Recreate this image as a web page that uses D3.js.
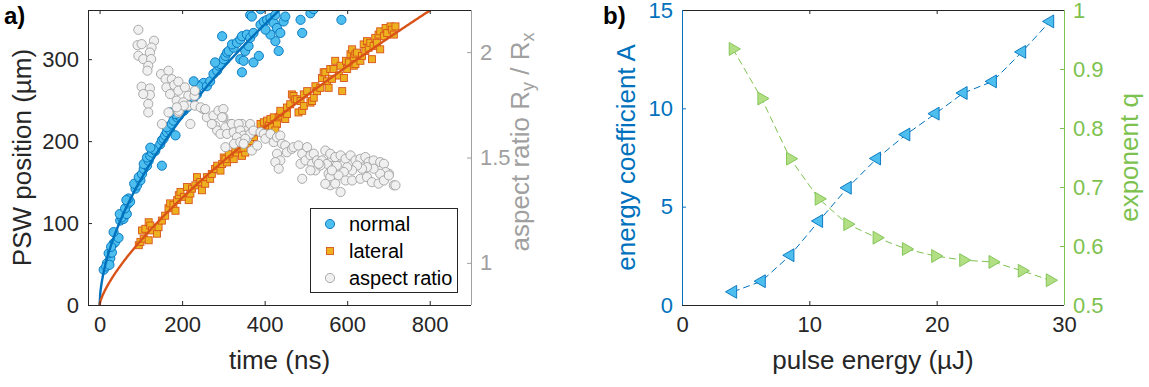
<!DOCTYPE html>
<html>
<head>
<meta charset="utf-8">
<script src="https://cdn.jsdelivr.net/npm/d3@7"></script>
<style>
  body { margin: 0; background: #fff; }
  svg { display: block; font-family: "Liberation Sans", Arial, Helvetica, sans-serif; }
</style>
</head>
<body>
<svg id="fig" width="1149" height="387"></svg>
<script>
// ---------- panel a: shock-wave position vs. time ----------
// normal direction [time ns, position µm]
const normalPoints = [
  [10,43],[18,51],[26,57],[22,63],[30,64],[16,47],[24,49],[34,75],[38,77],[28,71],[46,82],[34,89],
  [50,103],[58,105],[54,107],[49,111],[66,111],[62,118],[70,124],[74,126],[70,130],[65,128],
  [87,142],[91,146],[84,148],[99,152],[95,156],[103,160],[107,166],[115,170],[107,172],[119,176],
  [115,180],[123,182],[127,186],[135,188],[131,190],[123,192],[151,170],[147,196],[151,201],[155,203],
  [159,207],[163,211],[171,213],[163,217],[184,207],[175,221],[179,225],[188,229],[192,231],[184,233],
  [171,235],[204,237],[212,241],[220,245],[228,253],[236,257],[232,261],[248,269],[252,271],[240,267],
  [228,273],[260,267],[268,273],[276,282],[285,286],[289,292],[293,294],[280,296],[301,300],[305,304],
  [309,308],[313,310],[325,314],[321,318],[333,320],[341,324],[345,328],[357,330],[297,328],[345,284],
  [341,300],[349,298],[373,296],[386,304],[353,310],[361,316],[365,326],[373,332],[390,342],[398,346],
  [406,348],[414,350],[422,344],[430,338],[438,332],[446,346],[450,352],[426,354],[390,361],[365,354],
  [369,352],[434,310],[426,322],[414,330],[402,336],[487,348],[511,356],[519,361],[491,332],[586,348]
];
// lateral direction [time ns, position µm]
const lateralPoints = [
  [95,73],[99,77],[103,91],[111,93],[119,101],[123,97],[127,91],[107,81],[119,79],[139,87],[143,95],
  [151,103],[159,109],[167,118],[171,124],[179,122],[184,115],[188,128],[192,134],[196,138],[204,132],
  [212,144],[216,128],[220,136],[224,142],[232,146],[236,156],[244,150],[248,140],[256,148],[260,156],
  [268,154],[272,160],[280,166],[285,170],[293,164],[297,172],[301,180],[309,174],[317,182],[325,178],
  [333,186],[345,182],[353,186],[305,178],[313,184],[329,190],[337,192],[349,192],[357,197],[365,200],
  [374,205],[382,211],[390,221],[398,223],[402,213],[406,225],[410,219],[414,227],[418,217],[422,229],
  [430,221],[426,213],[434,229],[438,231],[442,235],[446,235],[450,227],[454,233],[482,235],[438,237],
  [454,241],[462,245],[466,257],[470,255],[474,251],[478,251],[487,249],[491,237],[495,257],[495,243],
  [503,261],[511,247],[515,249],[519,253],[523,267],[527,261],[535,265],[539,277],[543,284],[547,284],
  [551,273],[555,265],[559,288],[563,276],[567,288],[571,298],[580,280],[584,292],[588,261],[592,277],
  [597,298],[600,288],[604,296],[608,306],[612,312],[616,302],[616,292],[620,294],[620,306],[624,308],
  [632,298],[636,304],[640,318],[644,310],[648,322],[652,314],[656,320],[660,300],[664,316],[668,326],
  [672,320],[676,330],[680,334],[680,312],[689,328],[693,338],[697,332],[705,340],[709,336],[713,330],
  [717,340]
];
// aspect ratio Ry/Rx [time ns, ratio]
const aspectPoints = [
  [94,2.106],[92,2.033],[102,2.038],[132,2.054],[126,2.022],[122,1.998],[94,1.983],[106,1.967],[125,1.967],
  [118,1.935],[116,1.912],[149,1.896],[167,1.912],[160,1.872],[175,1.872],[102,1.836],[122,1.828],
  [122,1.797],[106,1.801],[118,1.754],[118,1.714],[162,1.833],[181,1.844],[191,1.860],[171,1.801],
  [191,1.817],[207,1.833],[215,1.793],[187,1.770],[203,1.762],[230,1.793],[231,1.817],[215,1.746],
  [231,1.746],[191,1.714],[167,1.714],[251,1.730],[245,1.738],[260,1.691],[256,1.730],[276,1.699],
  [288,1.722],[300,1.730],[280,1.651],[300,1.691],[317,1.659],[333,1.643],[345,1.659],[357,1.628],
  [220,1.659],[151,1.659],[192,1.722],[204,1.746],[187,1.738],[297,1.691],[285,1.628],[305,1.643],
  [293,1.612],[309,1.612],[321,1.659],[337,1.659],[325,1.620],[341,1.628],[349,1.604],[333,1.596],
  [357,1.589],[365,1.612],[365,1.659],[373,1.628],[305,1.549],[326,1.565],[341,1.573],[353,1.589],
  [349,1.565],[369,1.533],[382,1.557],[390,1.620],[398,1.612],[402,1.589],[414,1.612],[422,1.573],
  [430,1.596],[438,1.604],[442,1.565],[450,1.557],[430,1.518],[438,1.486],[426,1.478],[434,1.447],
  [454,1.525],[466,1.541],[470,1.549],[482,1.557],[491,1.518],[503,1.549],[487,1.470],[499,1.486],
  [511,1.510],[515,1.470],[519,1.518],[527,1.486],[523,1.439],[511,1.439],[539,1.486],[547,1.533],
  [551,1.470],[563,1.502],[555,1.423],[559,1.407],[575,1.462],[579,1.502],[491,1.399],[559,1.368],
  [272,1.659],[559,1.518],[571,1.502],[584,1.510],[596,1.494],[608,1.510],[620,1.486],[632,1.494],
  [644,1.502],[652,1.478],[664,1.486],[680,1.478],[689,1.470],[701,1.423],[693,1.431],[680,1.423],
  [664,1.447],[648,1.454],[636,1.447],[624,1.462],[612,1.439],[600,1.454],[592,1.431],[579,1.415],
  [563,1.439],[596,1.391],[612,1.391],[632,1.399],[648,1.407],[660,1.383],[676,1.376],[689,1.391],
  [701,1.415],[713,1.368],[717,1.368],[584,1.336],[571,1.376],[547,1.375],[535,1.462],[531,1.470]
];
// power-law fits  r(t) = A * t^q
const normalFit = { A: 10.6, q: 0.58 };
const lateralFit = { A: 2.73, q: 0.73 };

const timeTicks = [0, 200, 400, 600, 800];
const positionTicks = [0, 100, 200, 300];
const ratioTicks = [1, 1.5, 2];

// ---------- panel b: fit parameters vs. pulse energy ----------
const pulseEnergy = [4.0, 6.25, 8.5, 10.75, 13.0, 15.3, 17.6, 19.9, 22.1, 24.4, 26.7, 28.9];
const energyCoefficient = [0.67, 1.21, 2.53, 4.27, 5.96, 7.45, 8.67, 9.73, 10.78, 11.37, 12.87, 14.42];
const exponentQ = [0.934, 0.850, 0.748, 0.680, 0.637, 0.614, 0.595, 0.583, 0.576, 0.573, 0.558, 0.542];

const energyTicks = [0, 10, 20, 30];
const coefTicks = [0, 5, 10, 15];
const qTicks = [0.5, 0.6, 0.7, 0.8, 0.9, 1];

// ---------- styling ----------
const dark = "#262626";
const grey = "#a0a0a0";
const blueLine = "#0072BD";
const blueFill = "#4DBEEE";
const orangeLine = "#D95319";
const orangeFill = "#EDB120";
const greenLine = "#7DC24F";
const greenFill = "#B2DE84";
const tickFont = 22, labelFont = 26;
const plainNumber = d3.format("~g");

const svg = d3.select("#fig");
const defs = svg.append("defs");

function styleAxis(g, color) {
  g.select(".domain").remove();
  g.selectAll(".tick line").attr("stroke", color).attr("stroke-width", 1);
  g.selectAll(".tick text").attr("fill", color).attr("font-size", tickFont)
    .attr("font-family", "Liberation Sans, Arial, sans-serif");
}
function boxLine(x1, y1, x2, y2, color) {
  svg.append("line").attr("x1", x1).attr("y1", y1).attr("x2", x2).attr("y2", y2)
    .attr("stroke", color).attr("stroke-width", 1).attr("shape-rendering", "crispEdges");
}

// ================= panel a =================
const pa = { l: 88, r: 471, t: 10, b: 305 };
const xA = d3.scaleLinear().domain([-28, 900]).range([pa.l, pa.r]);
const yA = d3.scaleLinear().domain([0, 360]).range([pa.b, pa.t]);
const rA = d3.scaleLinear().domain([0.8, 2.2]).range([pa.b, pa.t]);

defs.append("clipPath").attr("id", "clipA").append("rect")
  .attr("x", pa.l).attr("y", pa.t).attr("width", pa.r - pa.l).attr("height", pa.b - pa.t);

svg.append("rect").attr("x", pa.l).attr("y", pa.t).attr("width", pa.r - pa.l)
  .attr("height", pa.b - pa.t).attr("fill", "#fff");

const plotA = svg.append("g").attr("clip-path", "url(#clipA)");

plotA.append("g").selectAll("circle").data(normalPoints).join("circle")
  .attr("cx", d => xA(d[0])).attr("cy", d => yA(d[1])).attr("r", 4.6)
  .attr("fill", blueFill).attr("stroke", blueLine).attr("stroke-width", 0.9);

const sq = 7;
plotA.append("g").selectAll("rect").data(lateralPoints).join("rect")
  .attr("x", d => xA(d[0]) - sq / 2).attr("y", d => yA(d[1]) - sq / 2)
  .attr("width", sq).attr("height", sq)
  .attr("fill", orangeFill).attr("stroke", orangeLine).attr("stroke-width", 0.9);

const fitTimes = d3.range(0, 901, 2);
const fitLine = d3.line().x(d => xA(d[0])).y(d => yA(d[1]));
[[normalFit, blueLine], [lateralFit, orangeLine]].forEach(([f, c]) => {
  plotA.append("path")
    .attr("d", fitLine(fitTimes.map(t => [t, f.A * Math.pow(t, f.q)])))
    .attr("fill", "none").attr("stroke", c).attr("stroke-width", 2.4);
});

plotA.append("g").selectAll("circle").data(aspectPoints).join("circle")
  .attr("cx", d => xA(d[0])).attr("cy", d => rA(d[1])).attr("r", 4.6)
  .attr("fill", "#f0f0f0").attr("stroke", grey).attr("stroke-width", 0.9);

// axes a
const axBA = svg.append("g").attr("transform", `translate(0,${pa.b})`)
  .call(d3.axisBottom(xA).tickValues(timeTicks).tickSize(-4).tickPadding(11));
styleAxis(axBA, dark);
const axTA = svg.append("g").attr("transform", `translate(0,${pa.t})`)
  .call(d3.axisTop(xA).tickValues(timeTicks).tickSize(-4).tickFormat(""));
styleAxis(axTA, dark);
const axLA = svg.append("g").attr("transform", `translate(${pa.l},0)`)
  .call(d3.axisLeft(yA).tickValues(positionTicks).tickSize(-4).tickPadding(9));
styleAxis(axLA, dark);
const axRA = svg.append("g").attr("transform", `translate(${pa.r},0)`)
  .call(d3.axisRight(rA).tickValues(ratioTicks).tickSize(-4).tickPadding(9).tickFormat(plainNumber));
styleAxis(axRA, grey);

boxLine(pa.l, pa.b, pa.r, pa.b, dark);
boxLine(pa.l, pa.t, pa.r, pa.t, dark);
boxLine(pa.l, pa.t, pa.l, pa.b, dark);
boxLine(pa.r, pa.t, pa.r, pa.b, grey);

svg.append("text").attr("x", (pa.l + pa.r) / 2).attr("y", 369).attr("text-anchor", "middle")
  .attr("font-size", labelFont).attr("fill", dark).text("time (ns)");
svg.append("text").attr("transform", `translate(31,${(pa.t + pa.b) / 2}) rotate(-90)`)
  .attr("text-anchor", "middle").attr("font-size", labelFont).attr("fill", dark)
  .text("PSW position (µm)");
const arLabel = svg.append("text").attr("transform", `translate(529,142) rotate(-90)`)
  .attr("text-anchor", "middle").attr("font-size", labelFont).attr("fill", grey);
arLabel.append("tspan").text("aspect ratio R");
arLabel.append("tspan").attr("dy", 5).attr("font-size", 18).text("y");
arLabel.append("tspan").attr("dy", -5).text(" / R");
arLabel.append("tspan").attr("dy", 5).attr("font-size", 18).text("x");

svg.append("text").attr("x", 4).attr("y", 24).attr("font-size", 24).attr("font-weight", "bold")
  .attr("fill", "#000").text("a)");

// legend
const leg = { x: 310, y: 208, w: 147, h: 84 };
svg.append("rect").attr("x", leg.x).attr("y", leg.y).attr("width", leg.w).attr("height", leg.h)
  .attr("fill", "#fff").attr("stroke", dark).attr("stroke-width", 1).attr("shape-rendering", "crispEdges");
const legendItems = ["normal", "lateral", "aspect ratio"];
legendItems.forEach((name, i) => {
  const cy = 224 + i * 27;
  if (i === 0) {
    svg.append("circle").attr("cx", 330).attr("cy", cy).attr("r", 4.6)
      .attr("fill", blueFill).attr("stroke", blueLine).attr("stroke-width", 0.9);
  } else if (i === 1) {
    svg.append("rect").attr("x", 330 - sq / 2).attr("y", cy - sq / 2).attr("width", sq).attr("height", sq)
      .attr("fill", orangeFill).attr("stroke", orangeLine).attr("stroke-width", 0.9);
  } else {
    svg.append("circle").attr("cx", 330).attr("cy", cy).attr("r", 4.6)
      .attr("fill", "#f0f0f0").attr("stroke", grey).attr("stroke-width", 0.9);
  }
  svg.append("text").attr("x", 349).attr("y", cy + 7).attr("font-size", 20).attr("fill", "#000").text(name);
});

// ================= panel b =================
const pb = { l: 682, r: 1064, t: 10, b: 305 };
const xB = d3.scaleLinear().domain([0, 30]).range([pb.l, pb.r]);
const yB = d3.scaleLinear().domain([0, 15]).range([pb.b, pb.t]);
const qB = d3.scaleLinear().domain([0.5, 1]).range([pb.b, pb.t]);

const dashLine = (ys) => d3.line().x((d, i) => xB(pulseEnergy[i])).y(d => ys(d));

svg.append("path").attr("d", dashLine(yB)(energyCoefficient))
  .attr("fill", "none").attr("stroke", blueLine).attr("stroke-width", 1).attr("stroke-dasharray", "7,4");
svg.append("g").selectAll("path").data(energyCoefficient).join("path")
  .attr("d", d3.symbol(d3.symbolTriangle, 72)())
  .attr("transform", (d, i) => `translate(${xB(pulseEnergy[i])},${yB(d)}) rotate(-90)`)
  .attr("fill", blueFill).attr("stroke", blueLine).attr("stroke-width", 0.9);

svg.append("path").attr("d", dashLine(qB)(exponentQ))
  .attr("fill", "none").attr("stroke", greenLine).attr("stroke-width", 1).attr("stroke-dasharray", "7,4");
svg.append("g").selectAll("path").data(exponentQ).join("path")
  .attr("d", d3.symbol(d3.symbolTriangle, 72)())
  .attr("transform", (d, i) => `translate(${xB(pulseEnergy[i])},${qB(d)}) rotate(90)`)
  .attr("fill", greenFill).attr("stroke", greenLine).attr("stroke-width", 0.9);

const axBB = svg.append("g").attr("transform", `translate(0,${pb.b})`)
  .call(d3.axisBottom(xB).tickValues(energyTicks).tickSize(-4).tickPadding(11));
styleAxis(axBB, dark);
const axTB = svg.append("g").attr("transform", `translate(0,${pb.t})`)
  .call(d3.axisTop(xB).tickValues(energyTicks).tickSize(-4).tickFormat(""));
styleAxis(axTB, dark);
const axLB = svg.append("g").attr("transform", `translate(${pb.l},0)`)
  .call(d3.axisLeft(yB).tickValues(coefTicks).tickSize(-4).tickPadding(9));
styleAxis(axLB, blueLine);
const axRB = svg.append("g").attr("transform", `translate(${pb.r},0)`)
  .call(d3.axisRight(qB).tickValues(qTicks).tickSize(-4).tickPadding(9).tickFormat(plainNumber));
styleAxis(axRB, greenLine);

boxLine(pb.l, pb.b, pb.r, pb.b, dark);
boxLine(pb.l, pb.t, pb.r, pb.t, dark);
boxLine(pb.l, pb.t, pb.l, pb.b, blueLine);
boxLine(pb.r, pb.t, pb.r, pb.b, greenLine);

svg.append("text").attr("x", (pb.l + pb.r) / 2).attr("y", 369).attr("text-anchor", "middle")
  .attr("font-size", labelFont).attr("fill", dark).text("pulse energy (µJ)");
svg.append("text").attr("transform", `translate(635,${(pb.t + pb.b) / 2}) rotate(-90)`)
  .attr("text-anchor", "middle").attr("font-size", labelFont).attr("fill", blueLine)
  .text("energy coefficient A");
svg.append("text").attr("transform", `translate(1138,${(pb.t + pb.b) / 2}) rotate(-90)`)
  .attr("text-anchor", "middle").attr("font-size", labelFont).attr("fill", greenLine)
  .text("exponent q");
svg.append("text").attr("x", 603).attr("y", 24).attr("font-size", 24).attr("font-weight", "bold")
  .attr("fill", "#000").text("b)");
</script>
</body>
</html>
